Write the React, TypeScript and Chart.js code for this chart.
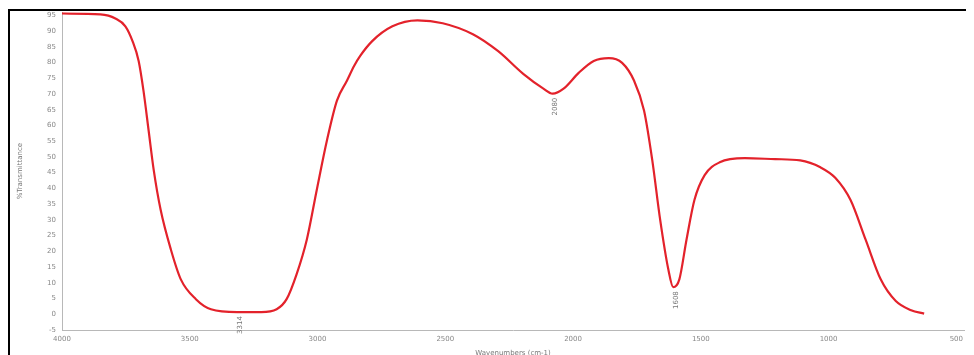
import React, { useEffect, useRef } from "react";
import { Chart, registerables } from "chart.js";

Chart.register(...registerables);

const wavenumbers = [
  4000, 3850, 3791, 3752, 3724, 3700, 3681, 3661, 3641, 3614, 3574, 3535, 3476, 3417, 3314, 3220, 3160,
  3121, 3082, 3042, 3003, 2963, 2924, 2885, 2857, 2833, 2786, 2707, 2609, 2510, 2392, 2293, 2195, 2116,
  2080, 2037, 1978, 1919, 1860, 1808, 1761, 1722, 1690, 1659, 1627, 1608, 1584, 1556, 1525, 1485, 1426,
  1328, 1209, 1111, 1032, 973, 914, 855, 796, 737, 677, 626,
];
const transmittance = [
  95.6, 95.3, 94.0, 91.5, 86.8, 80.5, 71.0, 58.4, 45.8, 33.2, 20.6, 11.1, 4.8, 1.6, 0.7, 0.7, 1.6,
  4.8, 12.7, 23.7, 39.5, 55.3, 67.9, 74.2, 78.9, 82.1, 86.8, 91.5, 93.4, 92.5, 89.0, 83.6, 76.4, 71.7,
  70.1, 71.7, 76.7, 80.5, 81.4, 79.9, 74.2, 64.7, 49.0, 30.0, 14.2, 8.6, 11.1, 23.7, 36.3, 44.2, 48.3,
  49.6, 49.3, 48.9, 46.7, 43.3, 36.3, 23.7, 11.1, 4.2, 1.3, 0.2,
];
const xTickValues = [4000, 3500, 3000, 2500, 2000, 1500, 1000, 500];
const yTickValues = [-5, 0, 5, 10, 15, 20, 25, 30, 35, 40, 45, 50, 55, 60, 65, 70, 75, 80, 85, 90, 95];
const peakWavenumbers = [3314, 2080, 1608];
const peakValues = [0.7, 70.1, 8.6];
const peakLabels = ["3314", "2080", "1608"];

const xTitle = "Wavenumbers (cm-1)";
const yTitle = "%Transmittance";

const peakLabelPlugin = {
  id: "peakLabels",
  afterDatasetsDraw(chart: any) {
    const { ctx, scales } = chart;
    ctx.save();
    ctx.fillStyle = "#777";
    ctx.font = "7px 'DejaVu Sans', sans-serif";
    ctx.textAlign = "right";
    ctx.textBaseline = "middle";
    peakWavenumbers.forEach((wn, i) => {
      const px = scales.x.getPixelForValue(wn);
      const py = scales.y.getPixelForValue(peakValues[i]);
      ctx.save();
      ctx.translate(px + 3, py + 4);
      ctx.rotate(-Math.PI / 2);
      ctx.fillText(peakLabels[i], 0, 0);
      ctx.restore();
    });
    ctx.restore();
  },
};

const font = { size: 7, family: "'DejaVu Sans', sans-serif" };

export default function App() {
  const canvasRef = useRef<HTMLCanvasElement | null>(null);

  useEffect(() => {
    if (!canvasRef.current) return;
    const chart = new Chart(canvasRef.current, {
      type: "line",
      data: {
        datasets: [
          {
            data: wavenumbers.map((w, i) => ({ x: w, y: transmittance[i] })),
            borderColor: "#e3222b",
            borderWidth: 2.2,
            pointRadius: 0,
            fill: false,
            cubicInterpolationMode: "monotone",
          },
        ],
      },
      options: {
        animation: false,
        responsive: false,
        maintainAspectRatio: false,
        layout: { padding: { top: 0, right: 12, left: 6, bottom: 0 } },
        plugins: { legend: { display: false }, tooltip: { enabled: false } },
        scales: {
          x: {
            type: "linear",
            reverse: true,
            min: 470,
            max: 4000,
            afterBuildTicks: (scale: any) => {
              scale.ticks = xTickValues.map((v) => ({ value: v }));
            },
            afterFit: (scale: any) => {
              scale.height = 27;
            },
            ticks: { color: "#888", font, padding: 2, maxRotation: 0, autoSkip: false, callback: (v: any) => String(v) },
            grid: { display: false, drawTicks: true, tickLength: 3, color: "#aaa" },
            border: { color: "#b8b8b8" },
            title: { display: true, text: xTitle, color: "#777", font, padding: { top: 0, bottom: 0 } },
          },
          y: {
            min: -5,
            max: 96,
            afterBuildTicks: (scale: any) => {
              scale.ticks = yTickValues.map((v) => ({ value: v }));
            },
            afterFit: (scale: any) => {
              scale.width = 46;
            },
            ticks: { color: "#888", font, padding: 3, autoSkip: false, callback: (v: any) => String(v) },
            grid: { display: false, drawTicks: true, tickLength: 3, color: "#aaa" },
            border: { color: "#b8b8b8" },
            title: { display: true, text: yTitle, color: "#777", font, padding: { top: 0, bottom: 8 } },
          },
        },
      },
      plugins: [peakLabelPlugin],
    } as any);
    return () => chart.destroy();
  }, []);

  return (
    <div style={{ width: 980, height: 360, border: "2px solid #000", borderRight: "none", borderBottom: "none", background: "#fff", boxSizing: "border-box", marginTop: 1, overflow: "hidden" }}>
      <canvas ref={canvasRef} width={966} height={352} style={{ display: "block", width: 966, height: 352, position: "relative", top: -6 }} />
    </div>
  );
}
